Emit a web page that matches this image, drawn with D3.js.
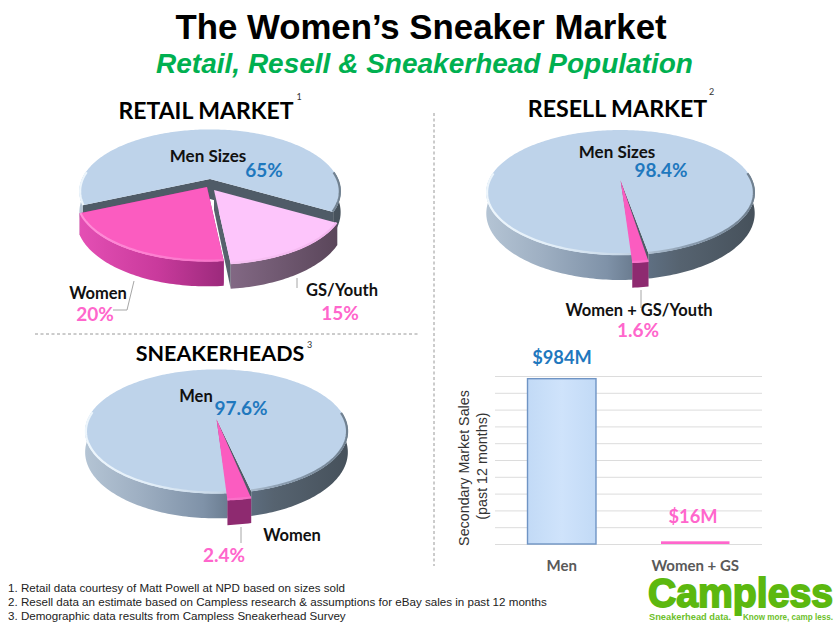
<!DOCTYPE html>
<html><head><meta charset="utf-8">
<script src="https://cdnjs.cloudflare.com/ajax/libs/d3/7.8.5/d3.min.js"></script>
<style>html,body{margin:0;padding:0;background:#fff}svg{display:block}
text{font-family:Lato,sans-serif;font-weight:700}
.ar{font-family:"Liberation Sans",Arial,sans-serif}</style></head><body>
<svg id="c" width="840" height="630"></svg>
<script>
const retailCategories=["Men Sizes","GS/Youth","Women"];
const retailValues=[65,15,20];
const resellCategories=["Men Sizes","Women + GS/Youth"];
const resellValues=[98.4,1.6];
const headCategories=["Men","Women"];
const headValues=[97.6,2.4];
const barCategories=["Men","Women + GS"];
const barValues=[984,16];
const barLabels=["$984M","$16M"];
const barTicks=[0,100,200,300,400,500,600,700,800,900,1000];
const footnotes=["1. Retail data courtesy of Matt Powell at NPD based on sizes sold",
"2. Resell data an estimate based on Campless research & assumptions for eBay sales in past 12 months",
"3. Demographic  data results from Campless Sneakerhead Survey"];

const svg=d3.select("#c"),defs=svg.append("defs");
const BLUE="#1f78be",PINK="#ff66cc";
function grad(id,x1,x2,stops){
  const g=defs.append("linearGradient").attr("id",id).attr("gradientUnits","userSpaceOnUse")
    .attr("x1",x1).attr("x2",x2).attr("y1",0).attr("y2",0);
  stops.forEach(s=>g.append("stop").attr("offset",s[0]).attr("stop-color",s[1]));
  return `url(#${id})`;
}
const line=d3.line();
const deg=Math.PI/180;

function pie3d(id,values,startDeg,c,styles){
  const g=svg.append("g");
  const arcs=d3.pie().sort(null).startAngle(startDeg*deg).endAngle(startDeg*deg+2*Math.PI)(values);
  const P=0.2;
  const sc=a=>1/(1+P*Math.cos(a));
  arcs.forEach((d,i)=>{
    const st=styles[i];
    const rim=(a,dp)=>{const s=sc(a);return [c.cx+st.rx+c.rx*Math.sin(a)*s, c.cy+st.ry-c.ry*Math.cos(a)*s+(dp?c.depth*s:0)];};
    const ap=[c.cx+st.ax,c.cy+st.ay];
    const n=Math.max(6,Math.ceil((d.endAngle-d.startAngle)/0.02));
    const as=d3.range(n+1).map(k=>d.startAngle+(d.endAngle-d.startAngle)*k/n);
    if(st.face){
      [d.startAngle,d.endAngle].forEach(a=>{
        const r0=rim(a,false),r1=rim(a,true);
        g.append("path").attr("d",line([ap,r0,r1,[ap[0],ap[1]+c.depth]])+"Z").attr("fill",st.face);
      });
    }
    const runs=[];let cur=[];
    as.forEach(a=>{if(Math.cos(a)<0.12)cur.push(a);else{if(cur.length)runs.push(cur);cur=[];}});
    if(cur.length)runs.push(cur);
    const wall=grad(id+"w"+i,c.cx-c.rx*1.02,c.cx+c.rx*1.02,st.wall);
    const hi=grad(id+"h"+i,c.cx-c.rx*1.02,c.cx+c.rx*1.02,st.hi);
    runs.forEach(r=>{
      g.append("path").attr("d",line(r.map(a=>rim(a,false)).concat(r.slice().reverse().map(a=>rim(a,true))))+"Z").attr("fill",wall);
    });
    g.append("path").attr("d",line([ap].concat(as.map(a=>rim(a,false))))+"Z").attr("fill",st.top);
    runs.forEach(r=>{
      const inset=r.map(a=>{const p=rim(a,false);return [p[0]-Math.sin(a)*0.8,p[1]+Math.cos(a)*0.8];});
      g.append("path").attr("d",line(inset)).attr("fill","none").attr("stroke",hi).attr("stroke-width",2.2);
    });
  });
}
const menWall=[[0,"#b4c4d4"],[0.2,"#9fb0c3"],[0.45,"#7f92a8"],[0.6,"#5f7083"],[0.72,"#566370"],[1,"#46515b"]];
const menHi=[[0,"#eef6fc"],[0.25,"#e2eef8"],[0.5,"#c8d8e8"],[0.75,"#8b9db0"],[1,"#70808f"]];
const menStyle={ax:0,ay:0,rx:0,ry:0,top:"#bed3ea",face:"#4f5b67",wall:menWall,hi:menHi};
const pinkWall=[[0,"#e44fb4"],[0.3,"#c93a9c"],[0.55,"#9c2a7c"],[1,"#7c1c60"]];
const pinkHi=[[0,"#ff8ed8"],[1,"#f65abd"]];
const smallWall=[[0,"#a5337f"],[1,"#a5337f"]];

pie3d("ret",retailValues,246,{cx:210,cy:179,rx:128,ry:59.5,depth:20},[
  menStyle,
  {ax:4,ay:11,rx:4,ry:11,top:"#fdc5fb",face:"#57616c",wall:[[0,"#a88fa8"],[0.5,"#8a6f8c"],[1,"#594559"]],hi:[[0,"#fdd6fb"],[1,"#f3b4ee"]]},
  {ax:-3,ay:8,rx:-3,ry:8,top:"#fb5cc0",face:"#a23184",wall:pinkWall,hi:pinkHi}
]);
pie3d("res",resellValues,175.9,{cx:620.5,cy:180,rx:131.5,ry:60,depth:20},[
  menStyle,
  {ax:0,ay:0,rx:0,ry:8,top:"#fb5cc0",wall:[[0,"#8e2a70"],[1,"#8e2a70"]],hi:pinkHi}
]);
pie3d("hd",headValues,176.1,{cx:216.5,cy:419,rx:128.7,ry:59.5,depth:20},[
  menStyle,
  {ax:0,ay:0,rx:0,ry:7,top:"#fb5cc0",wall:[[0,"#8e2a70"],[1,"#8e2a70"]],hi:pinkHi}
]);

const lead=[[[134,281],[127,310],[113,310]],[[297,278],[297,288]],[[641,290],[641,308]],[[241,527],[241,543]]];
lead.forEach(l=>svg.append("path").attr("d",line(l)).attr("fill","none").attr("stroke","#a6a6a6").attr("stroke-width",1));
svg.append("path").attr("d",line([[434,113],[434,566]])).attr("stroke","#8c8c8c").attr("stroke-dasharray","3 2.5").attr("fill","none").attr("stroke-width",.9);
svg.append("path").attr("d",line([[35,334],[418,334]])).attr("stroke","#8c8c8c").attr("stroke-dasharray","3 2.5").attr("fill","none").attr("stroke-width",.9);

const x=d3.scaleBand().domain(barCategories).range([495,762]).paddingInner(0.487).paddingOuter(0.2435);
const y=d3.scaleLinear().domain([0,1000]).range([544,376]);
const ax=svg.append("g").attr("transform","translate(495,0)")
  .call(d3.axisLeft(y).tickValues(barTicks).tickSize(-267).tickFormat(""));
ax.select(".domain").remove();
ax.selectAll("line").attr("stroke","#dcdcdc").attr("stroke-width",1);
const bg=defs.append("linearGradient").attr("id","barF").attr("x1",0).attr("x2",1).attr("y1",0).attr("y2",0);
[[0,"#c2daf6"],[0.5,"#cfe3fb"],[1,"#c2daf6"]].forEach(s=>bg.append("stop").attr("offset",s[0]).attr("stop-color",s[1]));
svg.selectAll("rect.b").data(barValues).join("rect").attr("class","b")
  .attr("x",(d,i)=>x(barCategories[i])).attr("width",x.bandwidth())
  .attr("y",d=>y(d)).attr("height",d=>y(0)-y(d))
  .attr("fill",(d,i)=>i?PINK:"url(#barF)").attr("stroke",(d,i)=>i?"none":"#6f94c4").attr("stroke-width",1.4);

function T(s,px,py,size,fill,opt){opt=opt||{};
  const t=svg.append("text").text(s).attr("x",px).attr("y",py).attr("font-size",size).attr("fill",fill)
    .attr("text-anchor",opt.a||"middle");
  if(opt.cls)t.attr("class",opt.cls);
  if(opt.w)t.style("font-weight",opt.w);
  if(opt.i)t.attr("font-style","italic");
  if(opt.rot)t.attr("transform",`rotate(-90 ${px} ${py})`);
  if(opt.tl)t.attr("textLength",opt.tl).attr("lengthAdjust","spacingAndGlyphs");
  return t;
}
T("The Women\u2019s Sneaker Market",421,39,34.8,"#000",{cls:"ar"});
T("Retail, Resell & Sneakerhead Population",424.5,73,28,"#00b050",{cls:"ar",i:1});
T("RETAIL MARKET",206,119,23,"#000");T("1",299,100,9,"#333",{w:400});
T("RESELL MARKET",617.5,117,23.2,"#000");T("2",711.5,95,9,"#333",{w:400});
T("SNEAKERHEADS",220,361,21.5,"#000");T("3",309.5,348,9,"#333",{w:400});

T(retailCategories[0],208,162,17,"#111");T(retailValues[0]+"%",264,177,19,BLUE);
T(retailCategories[2],98,299,16.5,"#111");T(retailValues[2]+"%",95,321,19,PINK);
T(retailCategories[1],342,296,16.5,"#111");T(retailValues[1]+"%",340,320,19,PINK);
T(resellCategories[0],617,158,17,"#111");T(resellValues[0]+"%",661,177,19,BLUE);
T(resellCategories[1],639,316,16.5,"#111");T(resellValues[1]+"%",638,337,19,PINK);
T(headCategories[0],196,402,16.5,"#111");T(headValues[0]+"%",241,415,19,BLUE);
T(headCategories[1],292,541,16.5,"#111");T(headValues[1]+"%",224,562,19,PINK);

barLabels.forEach((s,i)=>T(s,i?693:562,i?523:364,18.3,i?PINK:BLUE));
barCategories.forEach(c=>T(c,x(c)+x.bandwidth()/2,571,15,"#595959"));
T("Secondary Market Sales",469,468,14.3,"#333",{cls:"ar",w:400,rot:1});
T("(past 12 months)",487,466,14.3,"#333",{cls:"ar",w:400,rot:1});

footnotes.forEach((f,i)=>T(f,8,592+i*14,11.6,"#222",{cls:"ar",w:400,a:"start"}));
T("Campless",648,607,41,"#5cb80f",{cls:"ar",a:"start",tl:185}).attr("stroke","#5cb80f").attr("stroke-width",1.8);
T("Sneakerhead data.",649,620,8.5,"#6cbf2a",{cls:"ar",a:"start",tl:82});
T("Know more, camp less.",743,620,8.5,"#6cbf2a",{cls:"ar",a:"start",tl:90});
</script></body></html>
